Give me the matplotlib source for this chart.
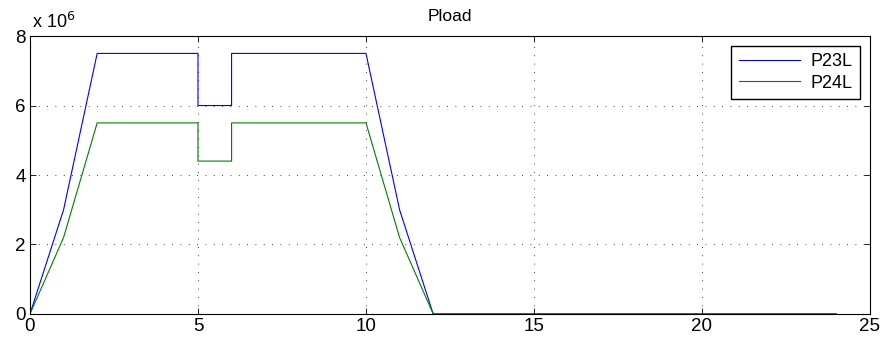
import matplotlib
matplotlib.use("Agg")
import matplotlib.pyplot as plt

plt.rcParams['font.family'] = ['Liberation Sans', 'DejaVu Sans']

# Load profile (W) versus time (s)
t = [0, 1, 2, 5, 5, 6, 6, 10, 11, 12, 24]
p23l = [0, 3.0e6, 7.5e6, 7.5e6, 6.0e6, 6.0e6, 7.5e6, 7.5e6, 3.0e6, 0, 0]
p24l = [0, 2.2e6, 5.5e6, 5.5e6, 4.4e6, 4.4e6, 5.5e6, 5.5e6, 2.2e6, 0, 0]

x_ticks = [0, 5, 10, 15, 20, 25]
y_ticks = [0, 2, 4, 6, 8]
scale = 1e6

fig = plt.figure(figsize=(8.87, 3.5), dpi=100)
ax = fig.add_axes([0.0338, 0.103, 0.9470, 0.794])

ax.plot(t, [v / scale for v in p23l], color=(0, 0, 1), lw=0.8, label='P23L')
ax.plot(t, [v / scale for v in p24l], color=(0, 0.5, 0), lw=0.8, label='P24L')

ax.set_xlim(0, 25)
ax.set_ylim(0, 8)
ax.set_xticks(x_ticks)
ax.set_yticks(y_ticks)
ax.tick_params(direction='in', length=4, width=0.6, labelsize=13.5,
               top=True, right=True, pad=3)
ax.grid(True, color='black', linestyle=(0, (1, 9)), linewidth=0.6)
for s in ax.spines.values():
    s.set_linewidth(0.8)

ax.set_title('Pload', fontsize=12.5, pad=11)
ax.text(0.002, 1.015, r'x 10$^{6}$', transform=ax.transAxes, fontsize=13,
        ha='left', va='bottom')

leg = ax.legend(loc='upper right', fontsize=13, frameon=True, fancybox=False,
                edgecolor='black', framealpha=1, handlelength=3.4,
                borderaxespad=0.55, borderpad=0.4, labelspacing=0.25,
                handletextpad=0.6)
leg.get_frame().set_linewidth(1.0)

fig.savefig('out.png', dpi=100)
